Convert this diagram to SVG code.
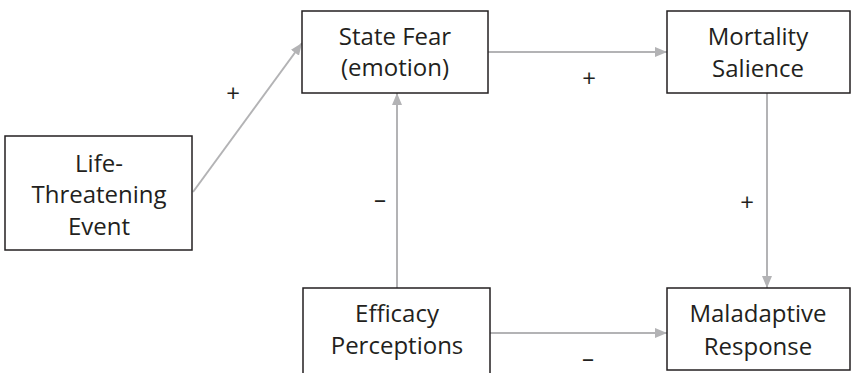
<svg xmlns="http://www.w3.org/2000/svg" width="851" height="373" viewBox="0 0 851 373">
<style>
.box{fill:#fff;stroke:#231f20;stroke-width:1.5}
.t{font-family:"Open Sans","Noto Sans",sans-serif;font-size:24px;fill:#231f20;text-anchor:middle}
.c{stroke:#b3b3b5;stroke-width:2;fill:none;marker-end:url(#ah)}
.l{font-family:"Open Sans","Noto Sans",sans-serif;font-size:24px;fill:#231f20;text-anchor:middle}
</style>
<defs>
<marker id="ah" viewBox="0 0 12 10" refX="12" refY="5" markerWidth="12" markerHeight="10" markerUnits="userSpaceOnUse" orient="auto">
<path d="M0,0 L12,5 L0,10 Z" fill="#b3b3b5"/>
</marker>
</defs>
<rect width="851" height="373" fill="#fff"/>
<g id="connectors">
<line class="c" x1="193" y1="192" x2="302" y2="43"/>
<line class="c" x1="488" y1="52" x2="667" y2="52"/>
<line class="c" x1="397" y1="288" x2="397" y2="93"/>
<line class="c" x1="767" y1="93" x2="767" y2="288"/>
<line class="c" x1="490" y1="333" x2="667" y2="333"/>
<text class="l" x="233" y="102">+</text>
<text class="l" x="589" y="87">+</text>
<text class="l" x="380" y="208">–</text>
<text class="l" x="747" y="211">+</text>
<text class="l" x="588" y="367">–</text>
</g>
<g id="state-fear">
<rect class="box" x="302" y="11" width="186" height="82"/>
<text class="t" x="395" y="45">State Fear</text>
<text class="t" x="395" y="76">(emotion)</text>
</g>
<g id="mortality-salience">
<rect class="box" x="667" y="11" width="183" height="82"/>
<text class="t" x="758" y="45">Mortality</text>
<text class="t" x="758" y="77">Salience</text>
</g>
<g id="life-threatening-event">
<rect class="box" x="5" y="136" width="187" height="114"/>
<text class="t" x="99" y="172">Life-</text>
<text class="t" x="99" y="203">Threatening</text>
<text class="t" x="99" y="235">Event</text>
</g>
<g id="efficacy-perceptions">
<rect class="box" x="303" y="288" width="187" height="100"/>
<text class="t" x="397" y="322">Efficacy</text>
<text class="t" x="397" y="354">Perceptions</text>
</g>
<g id="maladaptive-response">
<rect class="box" x="667" y="288" width="183" height="82"/>
<text class="t" x="758" y="322">Maladaptive</text>
<text class="t" x="758" y="355">Response</text>
</g>
</svg>
